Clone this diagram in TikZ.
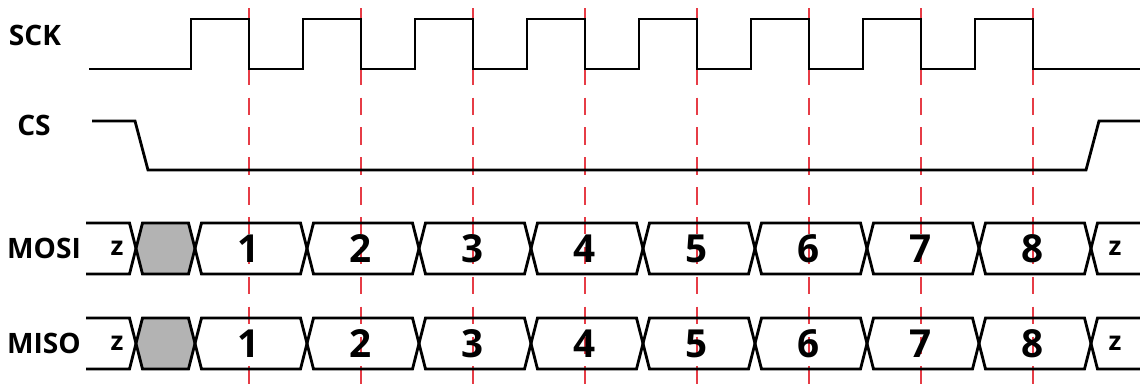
\documentclass[tikz,border=0pt]{standalone}
\usepackage{fontspec}
\setmainfont{Open Sans}
\usetikzlibrary{positioning}
\definecolor{tickred}{RGB}{230,60,70}
\definecolor{busgray}{RGB}{179,179,179}
\tikzset{
    wave/.style={line width=1.6pt, line join=miter, draw=black},
    clkline/.style={line width=0.6pt, draw=tickred, dash pattern=on 9.9pt off 7.1pt},
    sig/.style={font=\fontsize{16}{16}\selectfont\bfseries, inner sep=0pt},
    bit/.style={font=\fontsize{22}{22}\selectfont\bfseries, inner sep=0pt},
    hiz/.style={font=\fontsize{15}{15}\selectfont\bfseries, inner sep=0pt},
}
\begin{document}
\begin{tikzpicture}[x=0.02cm,y=-0.02cm]
    \pgfmathsetmacro\Period{112}
    \pgfmathsetmacro\Rise{191}
    \pgfmathsetmacro\Fall{249}
    \pgfmathsetmacro\Half{6.5}
    \pgfmathsetmacro\Start{136}
    \pgfmathsetmacro\First{195}
    %
    \useasboundingbox (0,0) rectangle (1140,387);
    %
        % Fronti di discesa
    \foreach \i in {0,...,7}
        \draw[clkline] ({\Fall+\Period*\i},8) -- ({\Fall+\Period*\i},387);
    %
        % SCK
    \node[sig] (sck) at (35,35) {SCK};
    \draw[wave] (89,69)
        \foreach \i in {0,...,7} {
            -- ({\Rise+\Period*\i},69) -- ({\Rise+\Period*\i},19)
            -- ({\Fall+\Period*\i},19) -- ({\Fall+\Period*\i},69)
        } -- (1140,69);
    %
        % CS
    \node[sig] (cs) at (34,125) {CS};
    \draw[wave] (92,121) -- (135,121) -- (148,170) -- (1086,170)
        -- (1099,121) -- (1140,121);
    %
        % MOSI e MISO
    \foreach \Top/\Name/\Lbl in {223/mosi/MOSI,318/miso/MISO} {
        \pgfmathsetmacro\Bot{\Top+51}
        \pgfmathsetmacro\Mid{\Top+25.5}
        \node[sig] (\Name) at (44,\Mid) {\Lbl};
        %
            % Alta impedenza iniziale
        \draw[wave] (86,\Top) -- ({\Start-\Half},\Top) -- (\Start,\Mid)
            -- ({\Start-\Half},\Bot) -- (86,\Bot);
        \node[hiz] (\Name z0) at (117,\Mid) {z};
        %
            % Non definito
        \draw[wave,fill=busgray] (\Start,\Mid) -- ({\Start+\Half},\Top)
            -- ({\First-\Half},\Top) -- (\First,\Mid)
            -- ({\First-\Half},\Bot) -- ({\Start+\Half},\Bot) -- cycle;
        %
            % Bit
        \foreach \i in {1,...,8} {
            \pgfmathsetmacro\L{\First+\Period*(\i-1)}
            \pgfmathsetmacro\R{\L+\Period}
            \draw[wave] (\L,\Mid) -- ({\L+\Half},\Top) -- ({\R-\Half},\Top)
                -- (\R,\Mid) -- ({\R-\Half},\Bot) -- ({\L+\Half},\Bot) -- cycle;
            \node[bit] (\Name\i) at ({\Fall+\Period*(\i-1)},\Mid) {\i};
        }
        %
            % Alta impedenza finale
        \pgfmathsetmacro\Stop{\First+\Period*8}
        \draw[wave] (1140,\Top) -- ({\Stop+\Half},\Top) -- (\Stop,\Mid)
            -- ({\Stop+\Half},\Bot) -- (1140,\Bot);
        \node[hiz] (\Name z9) at (1115,\Mid) {z};
    }
\end{tikzpicture}
\end{document}
